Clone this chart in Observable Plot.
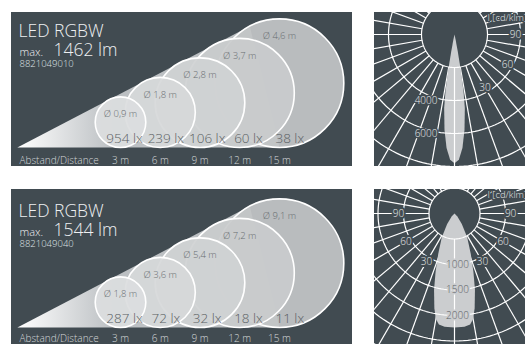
<!DOCTYPE html>
<html><head><meta charset="utf-8">
<script src="https://cdn.jsdelivr.net/npm/d3@7"></script>
<script src="https://cdn.jsdelivr.net/npm/@observablehq/plot@0.6"></script>
<style>
body{margin:0;background:#fff;}
#root{position:relative;width:525px;height:344px;overflow:hidden;}
.panel{position:absolute;overflow:hidden;}
.panel svg{display:block;}
</style></head><body><div id="root"></div>
<script>
// ---------- data ----------
const distances = [3, 6, 9, 12, 15];
const diamTop = ["0,9", "1,8", "2,8", "3,7", "4,6"];
const luxTop = [954, 239, 106, 60, 38];
const diamBottom = ["1,8", "3,6", "5,4", "7,2", "9,1"];
const luxBottom = [287, 72, 32, 18, 11];
const productNames = ["LED RGBW", "LED RGBW"];
const lumens = [1462, 1544];
const articleNumbers = ["8821049010", "8821049040"];
const distanceLabel = "Abstand/Distance";
const unitLabel = "I [cd/klm]";
const lobeTopAngles = [0, 2, 4, 6, 8, 9, 10, 11, 12, 13];
const lobeTopValues = [7800, 7600, 6900, 5800, 4500, 3500, 2200, 1000, 300, 0];
const lobeBottomAngles = [0, 5, 8, 10, 12, 15, 18, 22, 28, 35, 45, 55];
const lobeBottomValues = [2235, 2230, 2200, 2100, 1900, 1550, 1200, 850, 530, 250, 80, 0];
const ringsTop = [2000, 4000, 6000, 8000, 10000];
const ringLabelsTop = [4000, 6000];
const ringsBottom = [500, 1000, 1500, 2000, 2500, 3000];
const ringLabelsBottom = [1000, 1500, 2000];
const angleLabels = [30, 60, 90];

// ---------- style ----------
const BG = "#414b51";
const FONT = "'Open Sans', Lato, 'DejaVu Sans', sans-serif";
const root = document.getElementById("root");

function place(el, left, top, w, h) {
  const div = document.createElement("div");
  div.className = "panel";
  Object.assign(div.style, {left: left + "px", top: top + "px", width: w + "px", height: h + "px"});
  div.appendChild(el);
  root.appendChild(div);
}

function beamPanel(i, diam, lux, box) {
  const {left, top, width, height, baseline, distY} = box;
  const k = 13.25, x0 = 69.25; // px per metre, local px of 0 m
  const rScale = d3.scaleLinear().domain([3, 15]).range([25.3, 64.3]);
  const rows = distances.map((d, j) => ({d, r: rScale(d), diam: diam[j], lux: lux[j]}));
  const dApex = rScale.invert(0);
  const last = rows[rows.length - 1];
  const phi = Math.atan2(last.r, (last.d - dApex) * k);
  const alpha = 2 * phi;
  const cone = [
    {d: dApex, h: 0},
    {d: last.d - last.r * Math.sin(alpha) / k, h: last.r + last.r * Math.cos(alpha)},
    {d: last.d, h: 0}
  ];
  const gid = "cone" + i;
  const defs = () => {
    const g = document.createElementNS("http://www.w3.org/2000/svg", "defs");
    const ax = x0 + dApex * k;
    g.innerHTML = `<linearGradient id="${gid}" gradientUnits="userSpaceOnUse" x1="${ax}" y1="0" x2="${ax + 95}" y2="0">
      <stop offset="0" stop-color="#ffffff"/><stop offset="1" stop-color="#bcc0c3"/></linearGradient>`;
    return g;
  };
  const txt = {fontFamily: FONT, lineAnchor: "bottom", fontWeight: 300};
  const svg = Plot.plot({
    width, height, margin: 0,
    x: {domain: [-x0 / k, (width - x0) / k], range: [0, width], axis: null},
    y: {domain: [-(height - baseline), baseline], range: [height, 0], axis: null},
    r: {type: "identity"},
    color: {type: "linear", domain: [3, 15], range: ["#dcdedf", "#c3c5c6"]},
    style: {background: BG, fontFamily: FONT},
    marks: [
      defs,
      Plot.line(cone, {x: "d", y: "h", fill: `url(#${gid})`, stroke: "none"}),
      Plot.dot(rows, {x: "d", y: "r", r: "r", fill: "d", fillOpacity: 0.93, stroke: "white", strokeWidth: 1.6}),
      Plot.text(rows, {...txt, x: "d", y: d => 2 * d.r - 20.5, text: d => `Ø ${d.diam} m`, fontSize: 9.5, fill: "#686d71"}),
      Plot.text(rows, {...txt, x: d => d.d + 0.16 * d.r / k, y: () => 5, text: d => `${d.lux} lx`, fontSize: 13.5, fill: "#5a5f63"}),
      Plot.text(rows, {...txt, x: "d", y: () => distY, text: d => `${d.d} m`, fontSize: 10, fill: "#d2d6d8"}),
      Plot.text([distanceLabel], {...txt, frameAnchor: "left", dx: 8, y: () => distY, text: d => d, textAnchor: "start", fontSize: 10, fill: "#d2d6d8"}),
      Plot.text([productNames[i]], {...txt, frameAnchor: "left", dx: 7, y: () => 110.5, text: d => d, textAnchor: "start", fontSize: 17.5, fill: "#eef0f1"}),
      Plot.text(["max."], {...txt, frameAnchor: "left", dx: 8, y: () => 91.5, text: d => d, textAnchor: "start", fontSize: 11, fill: "#eef0f1"}),
      Plot.text([lumens[i]], {...txt, frameAnchor: "left", dx: 42, y: () => 91.5, text: d => `${d} lm`, textAnchor: "start", fontSize: 17.5, fill: "#eef0f1"}),
      Plot.text([articleNumbers[i]], {...txt, frameAnchor: "left", dx: 8, y: () => 80.5, text: d => d, textAnchor: "start", fontSize: 9.5, fill: "#dfe2e4"})
    ]
  });
  place(svg, left, top, width, height);
}

function polarPanel(i, cfg) {
  const {left, top, width, height, cx, cy, k, rings, hubR, ringLabels, lobeA, lobeV, angleR, bothSides, lobeLabels} = cfg;
  const pol = (a, v) => ({x: v * Math.sin(a * Math.PI / 180), y: v * Math.cos(a * Math.PI / 180)});
  const lobe = [
    ...lobeA.map((a, j) => pol(-a, lobeV[j])).reverse(),
    ...lobeA.slice(1).map((a, j) => pol(a, lobeV[j + 1]))
  ];
  const far = rings[rings.length - 1] * 3;
  const spokeAngles = d3.range(0, 360, 10);
  const spokes = spokeAngles.map(a => ({a, p1: pol(a, hubR), p2: pol(a, far)}));
  const ringPts = rings.flatMap(R => d3.range(0, 362, 2).map(a => ({R, ...pol(a, R)})));
  const angs = angleLabels.flatMap(a => bothSides ? [a, -a] : [a]).map(a => ({a: Math.abs(a), ...pol(a, angleR)}));
  const LOBE = "#cbcdcf";
  const linkOpts = {x1: d => d.p1.x, y1: d => d.p1.y, x2: d => d.p2.x, y2: d => d.p2.y, stroke: "white", strokeWidth: 1.2, clip: true};
  const svg = Plot.plot({
    width, height, margin: 0,
    x: {domain: [-cx / k, (width - cx) / k], range: [0, width], axis: null},
    y: {domain: [-cy / k, (height - cy) / k], range: [0, height], axis: null},
    style: {background: BG, fontFamily: FONT},
    marks: [
      Plot.link(spokes.filter(s => s.a !== 0), linkOpts),
      Plot.line(lobe, {x: "x", y: "y", fill: LOBE, stroke: "none", clip: true}),
      Plot.link(spokes.filter(s => s.a === 0), linkOpts),
      Plot.line(ringPts, {x: "x", y: "y", z: "R", stroke: "white", strokeWidth: 1.2, clip: true}),
      Plot.text(angs, {x: "x", y: "y", text: d => String(d.a), fontSize: 10, fill: "#e8eaeb", stroke: BG, strokeWidth: 4, fontFamily: FONT, fontWeight: 300}),
      lobeLabels
        ? Plot.text(ringLabels, {x: () => 0, y: d => d, dx: 3, text: d => String(d), fontSize: 10, fill: "#5d6266", stroke: LOBE, strokeWidth: 3, fontFamily: FONT, fontWeight: 300})
        : Plot.text(ringLabels, {x: () => -17 / k, y: d => d, text: d => String(d), textAnchor: "end", fontSize: 10, fill: "#e8eaeb", stroke: BG, strokeWidth: 3, fontFamily: FONT, fontWeight: 300}),
      Plot.text([unitLabel], {frameAnchor: "top-left", dx: 113, dy: 8, lineAnchor: "bottom", textAnchor: "start", text: d => d, fontSize: 9.5, fill: "#e8eaeb", stroke: BG, strokeWidth: 3, fontFamily: FONT, fontWeight: 300})
    ]
  });
  place(svg, left, top, width, height);
}

beamPanel(0, diamTop, luxTop, {left: 11, top: 12, width: 341, height: 154, baseline: 135, distY: -16.5});
beamPanel(1, diamBottom, luxBottom, {left: 11, top: 189, width: 341, height: 155, baseline: 138, distY: -14.5});
polarPanel(0, {left: 374, top: 12, width: 151, height: 154, cx: 80, cy: 22, k: 0.0165,
  rings: ringsTop, hubR: 2000, ringLabels: ringLabelsTop, lobeA: lobeTopAngles, lobeV: lobeTopValues,
  angleR: 3700, bothSides: false, lobeLabels: false});
polarPanel(1, {left: 374, top: 189, width: 151, height: 155, cx: 80, cy: 24, k: 0.051,
  rings: ringsBottom, hubR: 500, ringLabels: ringLabelsBottom, lobeA: lobeBottomAngles, lobeV: lobeBottomValues,
  angleR: 1100, bothSides: true, lobeLabels: true});
</script></body></html>
